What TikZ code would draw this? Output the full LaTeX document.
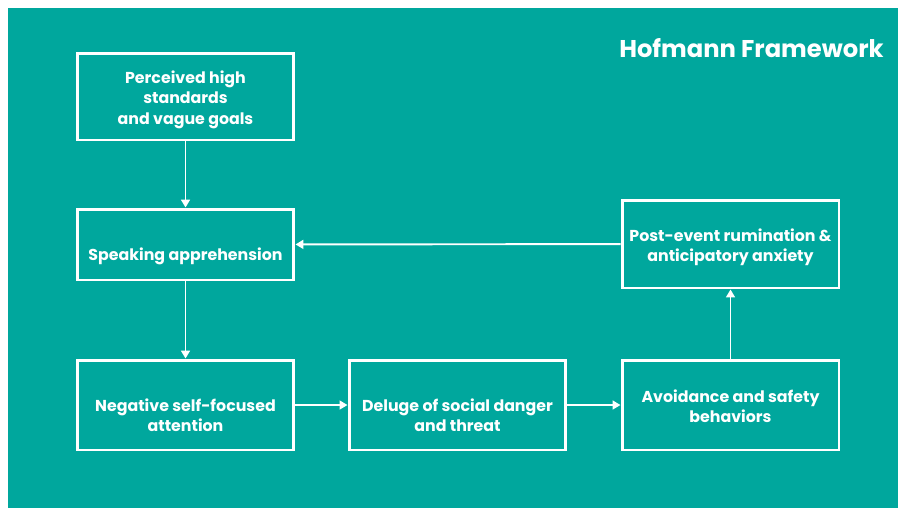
\documentclass[tikz,border=0pt]{standalone}
\usepackage{fontspec}
\setmainfont{Poppins}
\usetikzlibrary{arrows.meta}
\definecolor{hofteal}{RGB}{0,167,157}
\tikzset{
	stagebox/.style={draw=white, line width=1.7pt, minimum width=4.34cm, inner sep=0pt},
	stagetext/.style={text=white, align=center, inner sep=0pt,
		font=\fontsize{9}{11.6}\selectfont\bfseries},
	flow/.style={draw=white, line width=1.1pt, -{Triangle[length=4.5pt,width=5pt]}}
}

\begin{document}
\begin{tikzpicture}[x=0.02cm, y=-0.02cm]
		%%%%% START %%%%%
		
		\fill[white] (0, 0) rectangle (898, 508);
		\useasboundingbox (0, 0) rectangle (898, 508);
		\fill[hofteal] (8, 8) rectangle (898, 508);
		
		\node[anchor=east, inner sep=0pt, text=white, font=\fontsize{13.8}{16}\selectfont\bfseries] (title) at (884, 48) {Hofmann Framework};
		
		% boxes
		\node[stagebox, minimum height=1.74cm] (standards) at (185.5, 96.5) {};
		\node[stagebox, minimum height=1.42cm] (apprehension) at (185.5, 244.5) {};
		\node[stagebox, minimum height=1.80cm] (attention) at (185.5, 405) {};
		\node[stagebox, minimum height=1.80cm] (deluge) at (457.5, 405) {};
		\node[stagebox, minimum height=1.80cm] (avoidance) at (730.5, 405) {};
		\node[stagebox, minimum height=1.76cm] (rumination) at (730.5, 244) {};
		
		% texts
		\node[stagetext] (standards-t) at ([yshift=-0.06cm]standards.center) {Perceived high\\standards\\and vague goals};
		\node[stagetext] (apprehension-t) at ([yshift=-0.24cm]apprehension.center) {Speaking apprehension};
		\node[stagetext] (attention-t) at ([yshift=-0.2cm]attention.center) {Negative self-focused\\attention};
		\node[stagetext] (deluge-t) at ([yshift=-0.2cm]deluge.center) {Deluge of social danger\\and threat};
		\node[stagetext] (avoidance-t) at ([yshift=-0.02cm]avoidance.center) {Avoidance and safety\\behaviors};
		\node[stagetext] (rumination-t) at ([yshift=-0.06cm]rumination.center) {Post-event rumination \&\\anticipatory anxiety};
		
		% arrows
		\draw[flow] (standards) -- (apprehension);
		\draw[flow] (apprehension) -- (attention);
		\draw[flow] (attention) -- (deluge);
		\draw[flow] (deluge) -- (avoidance);
		\draw[flow] (avoidance) -- (rumination);
		\draw[flow] (rumination) -- (apprehension);
		
		%%%%% END %%%%%
	\end{tikzpicture}
\end{document}
